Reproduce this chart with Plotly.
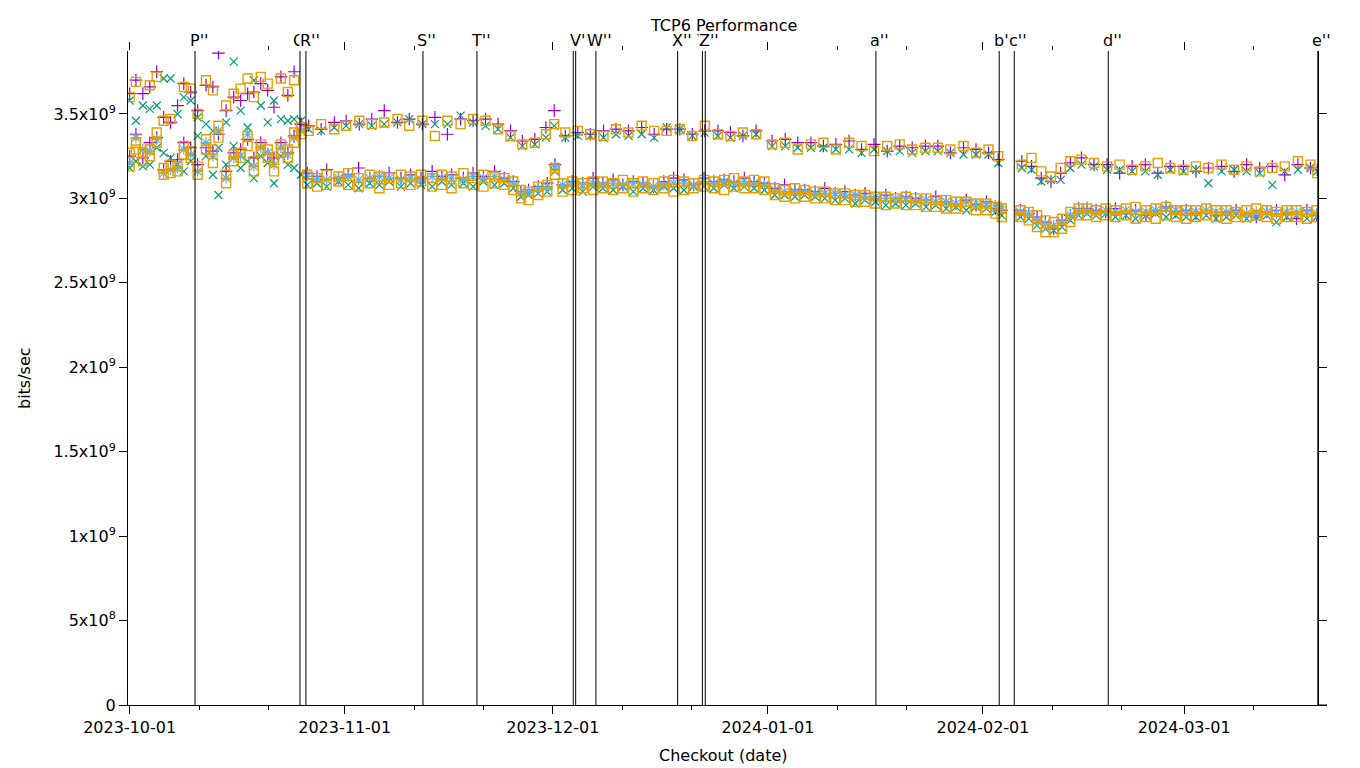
import pandas as pd
import plotly.graph_objects as go

BASE = "2023-10-01"

# ---- checkout times (days after 2023-10-01) ----
lower_days = [
    0.0, 0.9, 1.9, 2.9, 3.9, 4.9, 5.9, 6.9, 7.8, 8.8,
    9.8, 11.0, 12.0, 12.8, 13.9, 15.0, 16.0, 17.0, 17.9, 18.9,
    19.9, 20.8, 21.8, 22.8, 23.7, 24.7,
    25.6, 27.0, 28.4, 30.1, 31.5, 33.0, 34.6, 36.0, 37.4, 39.1,
    40.5, 42.0, 43.6, 45.0, 46.4, 48.1, 49.5, 51.0, 52.6, 54.0,
    55.3, 56.4, 57.5, 58.9, 60.2, 61.3, 62.4, 63.8, 65.3, 66.8,
    68.2, 69.7, 71.1, 72.6, 74.0, 75.5, 77.0, 78.4, 79.9, 81.3,
    82.8, 84.2, 85.7, 87.1, 88.6, 90.0, 91.5, 93.0, 94.4, 95.9,
    97.3, 98.8, 100.2, 101.7, 103.1, 104.6, 106.0, 107.5, 109.0, 110.4,
    111.9, 113.3, 114.8, 116.2, 117.7, 119.1, 120.6, 122.0, 123.5, 124.8,
    125.7, 128.4, 129.6, 130.8, 132.0, 133.2, 134.4, 135.6, 136.8, 138.0,
    139.3, 140.7, 142.1, 143.6, 145.0, 146.5, 147.9, 149.4, 150.8, 152.3,
    153.7, 155.2, 156.6, 158.1, 159.5, 161.0, 162.4, 163.9, 165.3, 166.8,
    168.2, 169.7, 171.1,
]

upper_days = [
    0.0, 0.9, 1.9, 2.9, 3.9, 4.9, 5.9, 6.9, 7.8, 8.8,
    9.8, 11.0, 12.0, 12.8, 13.9, 15.0, 16.0, 17.0, 17.9, 18.9,
    19.9, 20.8, 21.8, 22.8, 23.7, 24.7,
    25.8, 27.6, 29.5, 31.2, 33.1, 34.9, 36.7, 38.6, 40.3, 42.2,
    44.0, 45.8, 47.7, 49.5, 51.3, 53.1, 54.9, 56.6, 58.4, 60.0,
    61.2, 62.8, 64.6, 66.4, 68.3, 70.1, 71.9, 73.8, 75.6, 77.4,
    79.3, 81.1, 82.9, 84.8, 86.6, 88.4, 90.3, 92.6, 94.5, 96.3,
    98.2, 100.0, 101.8, 103.7, 105.5, 107.3, 109.2, 111.0, 112.8, 114.7,
    116.5, 118.3, 120.2, 122.0, 123.8, 125.2, 128.6, 130.0, 131.4, 132.8,
    134.2, 135.6, 137.2, 139.0, 140.9, 142.7, 144.5, 146.4, 148.2, 150.0,
    151.9, 153.7, 155.5, 157.4, 159.2, 161.0, 162.9, 164.7, 166.5, 168.4,
    170.2, 171.2,
]

# ---- throughput, Gbit/s ----
purple_lower = [
    3.25, 3.38, 3.24, 3.33, 3.36, 3.17, 3.22, 3.23, 3.33, 3.30,
    3.20, 3.30, 3.28, 3.38, 3.16, 3.27, 3.29, 3.35, 3.24, 3.33,
    3.26, 3.24, 3.33, 3.27, 3.37, 3.44,
    3.15, 3.13, 3.17, 3.12, 3.14, 3.18, 3.12, 3.13, 3.15, 3.12,
    3.14, 3.12, 3.16, 3.13, 3.14, 3.12, 3.15, 3.13, 3.16, 3.12,
    3.10, 3.04, 3.05, 3.07, 3.09, 3.20, 3.08, 3.10, 3.09, 3.12,
    3.09, 3.11, 3.08, 3.10, 3.09, 3.07, 3.10, 3.12, 3.11, 3.08,
    3.12, 3.10, 3.11, 3.10, 3.12, 3.10, 3.09, 3.06, 3.08, 3.05,
    3.05, 3.04, 3.06, 3.03, 3.04, 3.02, 3.03, 3.01, 3.02, 3.00,
    3.01, 3.00, 2.99, 3.01, 2.98, 2.97, 2.99, 2.96, 2.98, 2.94,
    2.93, 2.93, 2.91, 2.89, 2.86, 2.82, 2.87, 2.90, 2.94, 2.94,
    2.93, 2.92, 2.94, 2.91, 2.93, 2.90, 2.93, 2.95, 2.92, 2.93,
    2.91, 2.93, 2.90, 2.92, 2.93, 2.91, 2.89, 2.92, 2.93, 2.91,
    2.88, 2.93, 2.90,
]

green_lower = [
    3.18, 3.22, 3.19, 3.20, 3.30, 3.27, 3.24, 3.20, 3.16, 3.22,
    3.37, 3.25, 3.14, 3.02, 3.20, 3.31, 3.18, 3.22, 3.12, 3.25,
    3.21, 3.09, 3.25, 3.20, 3.18, 3.14,
    3.08, 3.09, 3.07, 3.10, 3.08, 3.06, 3.09, 3.08, 3.10, 3.07,
    3.09, 3.08, 3.07, 3.10, 3.08, 3.09, 3.07, 3.10, 3.08, 3.09,
    3.06, 3.01, 3.02, 3.03, 3.04, 3.16, 3.05, 3.06, 3.04, 3.07,
    3.06, 3.05, 3.07, 3.04, 3.06, 3.05, 3.07, 3.06, 3.05, 3.07,
    3.07, 3.06, 3.08, 3.06, 3.07, 3.06, 3.05, 3.02, 3.02, 3.01,
    3.02, 3.01, 3.00, 2.99, 3.00, 2.97, 2.99, 2.98, 2.96, 2.97,
    2.96, 2.97, 2.95, 2.96, 2.94, 2.95, 2.93, 2.95, 2.94, 2.92,
    2.90, 2.89, 2.88, 2.84, 2.82, 2.81, 2.83, 2.87, 2.90, 2.91,
    2.90, 2.91, 2.89, 2.90, 2.88, 2.90, 2.91, 2.89, 2.90, 2.89,
    2.89, 2.90, 2.88, 2.89, 2.90, 2.88, 2.89, 2.90, 2.86, 2.89,
    2.90, 2.88, 2.89,
]

blue_lower = [
    3.21, 3.36, 3.29, 3.28, 3.35, 3.15, 3.17, 3.18, 3.29, 3.26,
    3.16, 3.33, 3.25, 3.40, 3.12, 3.24, 3.25, 3.38, 3.19, 3.30,
    3.27, 3.20, 3.30, 3.26, 3.36, 3.40,
    3.13, 3.12, 3.11, 3.12, 3.13, 3.11, 3.12, 3.13, 3.12, 3.11,
    3.12, 3.11, 3.13, 3.12, 3.12, 3.11, 3.13, 3.12, 3.13, 3.11,
    3.09, 3.03, 3.04, 3.06, 3.07, 3.19, 3.08, 3.09, 3.08, 3.09,
    3.08, 3.09, 3.08, 3.09, 3.08, 3.07, 3.08, 3.09, 3.09, 3.08,
    3.10, 3.09, 3.10, 3.09, 3.10, 3.09, 3.08, 3.05, 3.04, 3.04,
    3.04, 3.03, 3.03, 3.03, 3.02, 3.02, 3.01, 3.01, 3.00, 3.00,
    3.00, 2.99, 2.99, 2.98, 2.98, 2.97, 2.98, 2.97, 2.97, 2.96,
    2.95, 2.92, 2.91, 2.87, 2.85, 2.84, 2.86, 2.90, 2.93, 2.93,
    2.92, 2.93, 2.92, 2.93, 2.92, 2.92, 2.93, 2.94, 2.93, 2.92,
    2.92, 2.93, 2.92, 2.92, 2.92, 2.91, 2.92, 2.92, 2.91, 2.92,
    2.92, 2.92, 2.91,
]

orange_lower_a = [
    3.27, 3.33, 3.27, 3.29, 3.39, 3.18, 3.20, 3.19, 3.31, 3.28,
    3.19, 3.35, 3.29, 3.43, 3.14, 3.26, 3.27, 3.37, 3.22, 3.32,
    3.29, 3.23, 3.32, 3.29, 3.39, 3.42,
    3.14, 3.12, 3.14, 3.13, 3.15, 3.12, 3.14, 3.13, 3.12, 3.14,
    3.13, 3.14, 3.12, 3.14, 3.13, 3.15, 3.12, 3.14, 3.13, 3.12,
    3.10, 3.05, 3.04, 3.07, 3.08, 3.18, 3.09, 3.10, 3.09, 3.10,
    3.10, 3.09, 3.11, 3.09, 3.10, 3.09, 3.10, 3.11, 3.10, 3.09,
    3.11, 3.10, 3.11, 3.12, 3.10, 3.11, 3.10, 3.06, 3.05, 3.06,
    3.05, 3.04, 3.04, 3.03, 3.03, 3.02, 3.02, 3.01, 3.01, 3.00,
    3.01, 3.00, 3.00, 2.99, 2.99, 2.98, 2.98, 2.97, 2.97, 2.95,
    2.94, 2.93, 2.92, 2.90, 2.87, 2.86, 2.88, 2.92, 2.94, 2.94,
    2.93, 2.94, 2.93, 2.94, 2.95, 2.93, 2.94, 2.95, 2.93, 2.93,
    2.93, 2.94, 2.93, 2.93, 2.92, 2.93, 2.94, 2.93, 2.92, 2.93,
    2.93, 2.92, 2.93,
]

orange_lower_b = [
    3.19, 3.29, 3.22, 3.25, 3.33, 3.14, 3.15, 3.16, 3.26, 3.24,
    3.14, 3.29, 3.21, 3.36, 3.09, 3.22, 3.24, 3.31, 3.16, 3.28,
    3.24, 3.16, 3.27, 3.24, 3.33, 3.38,
    3.09, 3.07, 3.08, 3.10, 3.08, 3.07, 3.09, 3.06, 3.08, 3.09,
    3.08, 3.10, 3.07, 3.08, 3.06, 3.09, 3.08, 3.07, 3.09, 3.08,
    3.05, 3.00, 2.99, 3.02, 3.04, 3.14, 3.04, 3.05, 3.06, 3.05,
    3.06, 3.05, 3.06, 3.04, 3.06, 3.05, 3.06, 3.04, 3.05, 3.06,
    3.07, 3.06, 3.05, 3.07, 3.06, 3.06, 3.05, 3.02, 3.01, 3.00,
    3.01, 3.00, 3.00, 2.99, 2.99, 2.98, 2.98, 2.97, 2.96, 2.97,
    2.96, 2.96, 2.95, 2.95, 2.94, 2.94, 2.95, 2.93, 2.93, 2.91,
    2.89, 2.89, 2.87, 2.83, 2.80, 2.80, 2.82, 2.86, 2.90, 2.90,
    2.89, 2.90, 2.89, 2.90, 2.88, 2.89, 2.88, 2.90, 2.89, 2.88,
    2.89, 2.90, 2.89, 2.88, 2.89, 2.89, 2.90, 2.89, 2.88, 2.89,
    2.89, 2.88, 2.89,
]

purple_upper = [
    3.62, 3.70, 3.62, 3.66, 3.75, 3.48, 3.45, 3.55, 3.68, 3.63,
    3.52, 3.67, 3.66, 3.86, 3.52, 3.60, 3.58, 3.62, 3.63, 3.68,
    3.64, 3.54, 3.72, 3.61, 3.75, 3.44,
    3.43, 3.41, 3.45, 3.46, 3.44, 3.47, 3.52, 3.45, 3.47, 3.44,
    3.48, 3.38, 3.47, 3.46, 3.47, 3.44, 3.40, 3.34, 3.35, 3.42,
    3.52, 3.37, 3.39, 3.38, 3.40, 3.41, 3.40, 3.42, 3.38, 3.41,
    3.41, 3.38, 3.40, 3.40, 3.39, 3.37, 3.40, 3.34, 3.35, 3.33,
    3.33, 3.31, 3.32, 3.34, 3.29, 3.32, 3.28, 3.31, 3.30, 3.31,
    3.31, 3.27, 3.30, 3.29, 3.27, 3.23, 3.22, 3.19, 3.12, 3.10,
    3.15, 3.21, 3.24, 3.20, 3.20, 3.15, 3.19, 3.20, 3.15, 3.19,
    3.19, 3.16, 3.18, 3.19, 3.16, 3.20, 3.18, 3.19, 3.14, 3.20,
    3.18, 3.17,
]

green_upper = [
    3.58, 3.46, 3.55, 3.53, 3.55, 3.71, 3.71, 3.50, 3.60, 3.58,
    3.48, 3.44, 3.40, 3.30, 3.45, 3.81, 3.52, 3.42, 3.70, 3.55,
    3.45, 3.58, 3.47, 3.46, 3.47, 3.46,
    3.41, 3.40, 3.42, 3.43, 3.44, 3.43, 3.44, 3.45, 3.47, 3.44,
    3.44, 3.44, 3.49, 3.45, 3.43, 3.41, 3.36, 3.31, 3.32, 3.36,
    3.43, 3.36, 3.37, 3.37, 3.36, 3.38, 3.37, 3.38, 3.36, 3.42,
    3.41, 3.37, 3.39, 3.37, 3.36, 3.37, 3.38, 3.31, 3.31, 3.30,
    3.30, 3.30, 3.29, 3.29, 3.27, 3.29, 3.28, 3.28, 3.27, 3.28,
    3.28, 3.27, 3.26, 3.26, 3.26, 3.21, 3.18, 3.17, 3.10, 3.11,
    3.11, 3.18, 3.20, 3.19, 3.17, 3.17, 3.16, 3.16, 3.14, 3.17,
    3.16, 3.17, 3.09, 3.16, 3.17, 3.16, 3.15, 3.08, 3.16, 3.17,
    3.18, 3.16,
]

orange_upper = [
    3.60, 3.69, None, 3.67, 3.72, 3.46, 3.47, None, 3.66, 3.65,
    3.50, 3.70, 3.64, None, 3.55, 3.62, 3.65, 3.71, 3.60, 3.72,
    3.68, None, 3.71, 3.63, 3.70, 3.42,
    3.40, 3.44, 3.41, 3.43, 3.46, 3.44, 3.45, 3.47, 3.43, 3.46,
    3.37, 3.46, 3.44, 3.47, 3.46, 3.41, 3.37, 3.32, 3.33, 3.38,
    3.44, 3.39, 3.40, 3.38, 3.37, 3.41, 3.39, 3.43, 3.40, 3.40,
    3.41, 3.37, 3.43, 3.38, 3.37, 3.39, 3.38, 3.32, 3.33, 3.29,
    3.32, 3.33, 3.29, 3.33, 3.31, 3.28, 3.31, 3.32, 3.29, 3.30,
    3.30, 3.29, 3.31, 3.27, 3.29, 3.25, 3.20, 3.24, 3.16, 3.13,
    3.18, 3.22, 3.23, 3.21, 3.19, 3.20, 3.17, 3.19, 3.21, 3.18,
    3.17, 3.19, 3.18, 3.20, 3.17, 3.19, 3.16, 3.18, 3.19, 3.22,
    3.20, 3.15,
]

# ---- release markers ----
release_labels = ["P''", "Q''", "R''", "S''", "T''", "U''", "V''", "W''",
                  "X''", "Y''", "Z''", "a''", "b''", "c''", "d''", "e''"]
release_days = [9.42, 24.55, 25.41, 42.28, 50.06, 63.94, 64.29, 67.21,
                78.99, 82.56, 82.97, 107.57, 125.34, 127.51, 141.06, 171.27]
# where each label text sits (U'' is hidden behind V'')
label_days = [9.42, 24.55, 25.41, 42.28, 50.06, 64.29, 64.29, 67.21,
              78.99, 82.56, 82.97, 107.57, 125.34, 127.51, 141.06, 171.27]

# ---- axis ticks ----
x_range = ["2023-09-30 18:14", "2024-03-20 07:05"]
month_ticks = ["2023-10-01", "2023-11-01", "2023-12-01",
               "2024-01-01", "2024-02-01", "2024-03-01"]
minor_ticks = ["2023-10-11", "2023-10-21", "2023-11-11", "2023-11-21",
               "2023-12-11", "2023-12-21", "2024-01-11", "2024-01-21",
               "2024-02-11", "2024-02-21", "2024-03-11"]
y_tick_vals = [0, 5e8, 1e9, 1.5e9, 2e9, 2.5e9, 3e9, 3.5e9]
y_tick_text = ["0", "5x10<sup>8</sup>", "1x10<sup>9</sup>", "1.5x10<sup>9</sup>",
               "2x10<sup>9</sup>", "2.5x10<sup>9</sup>", "3x10<sup>9</sup>",
               "3.5x10<sup>9</sup>"]
y_max = 3.873e9

FONT = "DejaVu Sans"
base = pd.Timestamp(BASE)


def pairs(days, vals):
    n = min(len(days), len(vals))
    xs, ys = [], []
    for d, v in zip(days[:n], vals[:n]):
        if v is None:
            continue
        xs.append(base + pd.Timedelta(days=d))
        ys.append(v * 1e9)
    return xs, ys


series = [
    ("purple", [(lower_days, purple_lower), (upper_days, purple_upper)],
     "#9400d3", "cross-thin-open", 9, 1.2),
    ("green", [(lower_days, green_lower), (upper_days, green_upper)],
     "#009e73", "x-thin-open", 8, 1.2),
    ("blue", [(lower_days, blue_lower)],
     "#56b4e9", "asterisk-open", 9, 1.2),
    ("orange", [(lower_days, orange_lower_a), (lower_days, orange_lower_b),
                (upper_days, orange_upper)],
     "#e69f00", "square-open", 9, 1.4),
]

fig = go.Figure()
for name, parts, color, symbol, size, lw in series:
    xs, ys = [], []
    for days, vals in parts:
        a, b = pairs(days, vals)
        xs += a
        ys += b
    fig.add_trace(go.Scatter(
        x=xs, y=ys, mode="markers", name=name, showlegend=False,
        marker=dict(symbol=symbol, size=size, color=color,
                    line=dict(color=color, width=lw)),
    ))

# dummy trace to activate the top (mirror) date axis
fig.add_trace(go.Scatter(x=x_range, y=[None, None], xaxis="x2",
                         mode="markers", showlegend=False, hoverinfo="skip"))

shapes = []
annotations = []
for lab, d, ld in zip(release_labels, release_days, label_days):
    t = base + pd.Timedelta(days=d)
    tl = base + pd.Timedelta(days=ld)
    shapes.append(dict(type="line", xref="x", yref="paper", x0=t, x1=t,
                       y0=0, y1=1, line=dict(color="black", width=1)))
    annotations.append(dict(text=lab, xref="x", yref="paper", x=tl, y=1,
                            xanchor="center", yanchor="middle", xshift=4,
                            yshift=11, showarrow=False, bgcolor="white",
                            borderpad=0,
                            font=dict(family=FONT, size=16, color="black")))

# small extension of the bottom axis line past the right border
shapes.append(dict(type="line", xref="paper", yref="paper", x0=1,
                   x1=1 + 9 / 1190, y0=0, y1=0,
                   line=dict(color="black", width=1)))

annotations.append(dict(text="TCP6 Performance", xref="paper", yref="paper",
                        x=0.5, y=1, yshift=26, showarrow=False,
                        xanchor="center", yanchor="middle",
                        font=dict(family=FONT, size=16, color="black")))
annotations.append(dict(text="bits/sec", xref="paper", yref="paper",
                        x=0, xshift=-104, y=0.5, textangle=-90,
                        showarrow=False, xanchor="center", yanchor="middle",
                        font=dict(family=FONT, size=16, color="black")))
annotations.append(dict(text="Checkout (date)", xref="paper", yref="paper",
                        x=0.5, y=0, yshift=-50, showarrow=False,
                        xanchor="center", yanchor="middle",
                        font=dict(family=FONT, size=16, color="black")))

axis_font = dict(family=FONT, size=16, color="black")

fig.update_layout(
    width=1360, height=768,
    margin=dict(l=128, r=42, t=51, b=63),
    paper_bgcolor="white", plot_bgcolor="white",
    font=axis_font,
    showlegend=False,
    xaxis=dict(type="date", range=x_range, showgrid=False, zeroline=False,
               showline=True, linecolor="black", linewidth=1,
               ticks="outside", ticklen=8, tickwidth=1, tickcolor="black",
               tickmode="array", tickvals=month_ticks, ticktext=month_ticks,
               tickfont=axis_font,
               minor=dict(ticks="outside", ticklen=4, tickwidth=1,
                          tickcolor="black", tickmode="array",
                          tickvals=minor_ticks, showgrid=False)),
    xaxis2=dict(type="date", range=x_range, overlaying="x", side="top",
                showgrid=False, zeroline=False, showline=False,
                ticks="outside", ticklen=8, tickwidth=1, tickcolor="black",
                tickmode="array", tickvals=month_ticks, showticklabels=False,
                minor=dict(ticks="outside", ticklen=4, tickwidth=1,
                           tickcolor="black", tickmode="array",
                           tickvals=minor_ticks, showgrid=False)),
    yaxis=dict(range=[0, y_max], showgrid=False, zeroline=False,
               showline=True, linecolor="black", linewidth=1, mirror="ticks",
               ticks="outside", ticklen=8, tickwidth=1, tickcolor="black",
               tickmode="array", tickvals=y_tick_vals, ticktext=y_tick_text,
               tickfont=axis_font),
    shapes=shapes,
    annotations=annotations,
)

fig.write_html(
    "out.html",
    config={"displayModeBar": False},
    post_script="document.body.style.margin='0';document.body.style.overflow='hidden';",
)
